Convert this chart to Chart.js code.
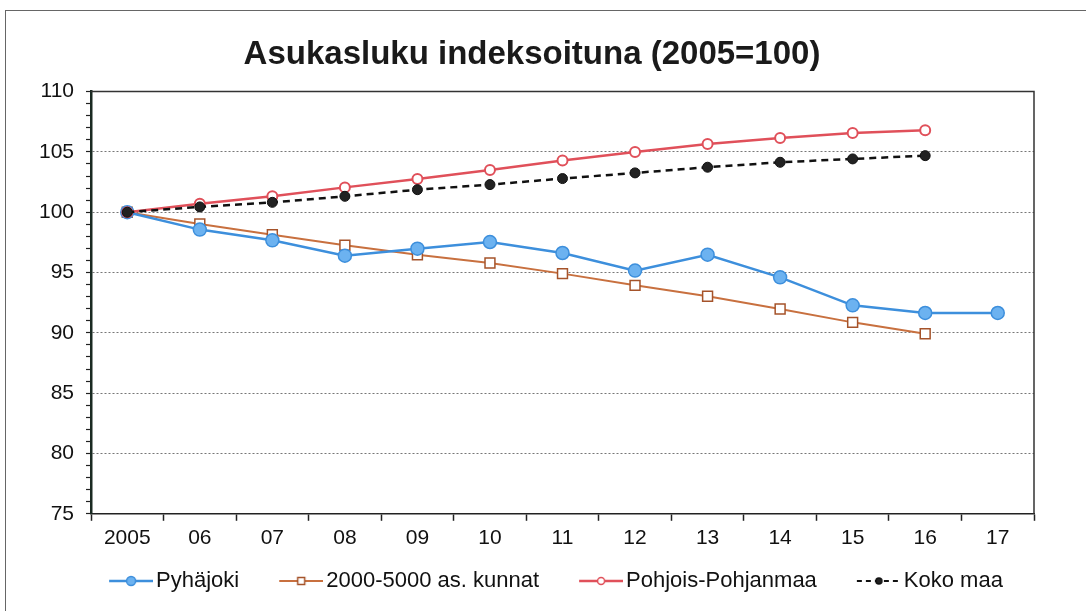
<!DOCTYPE html>
<html>
<head>
<meta charset="utf-8">
<script src="https://cdn.jsdelivr.net/npm/chart.js@4/dist/chart.umd.min.js"></script>
<style>
  html, body { margin: 0; padding: 0; background: #fff; }
  #wrap { position: relative; width: 1086px; height: 611px; overflow: hidden; }
  #frame { position: absolute; left: 5px; top: 10px; width: 1100px; height: 700px; border: 1px solid #666; box-sizing: border-box; }
  canvas { position: absolute; left: 0; top: 0; }
</style>
</head>
<body>
<div id="wrap">
  <div id="frame"></div>
  <canvas id="c" width="1086" height="611"></canvas>
</div>
<script>
const title = 'Asukasluku indeksoituna (2005=100)';
const years = ['2005', '06', '07', '08', '09', '10', '11', '12', '13', '14', '15', '16', '17'];
const pyhajoki = [100, 98.56, 97.67, 96.4, 96.98, 97.53, 96.62, 95.16, 96.48, 94.6, 92.28, 91.65, 91.65];
const kunnat = [100, 99.03, 98.14, 97.26, 96.48, 95.79, 94.91, 93.94, 93.03, 91.98, 90.87, 89.93, null];
const pohjois = [100, 100.71, 101.32, 102.06, 102.76, 103.5, 104.28, 105.0, 105.66, 106.16, 106.57, 106.79, null];
const kokoMaa = [100, 100.44, 100.82, 101.32, 101.87, 102.29, 102.79, 103.26, 103.73, 104.14, 104.42, 104.69, null];
const seriesNames = ['Pyhäjoki', '2000-5000 as. kunnat', 'Pohjois-Pohjanmaa', 'Koko maa'];
const yMin = 75, yMax = 110, yMajor = 5;

const FONT = "'Liberation Sans', Arial, sans-serif";
const LEG_FS = 22;
const LEG_PAD = 14;
const LEG_BOX = 62;             // pointStyleWidth
const ICON_W = LEG_BOX + 2 * 8; // image width (centered on box)
const LINE_LEN = 44;
const LEG_SHIFT = 11;

function legendIcon(lineColor, dash, shape, fill, stroke, r, lw) {
  const c = document.createElement('canvas');
  c.width = ICON_W; c.height = 16;
  const g = c.getContext('2d');
  const x1 = ICON_W, x0 = ICON_W - LINE_LEN, xm = (x0 + x1) / 2;
  g.strokeStyle = lineColor; g.lineWidth = lw;
  g.setLineDash(dash);
  g.beginPath(); g.moveTo(x0, 8); g.lineTo(x1, 8); g.stroke();
  g.setLineDash([]);
  g.fillStyle = fill; g.strokeStyle = stroke; g.lineWidth = 1.5;
  g.beginPath();
  if (shape === 'rect') g.rect(xm - r, 8 - r, 2 * r, 2 * r);
  else g.arc(xm, 8, r, 0, Math.PI * 2);
  g.fill(); g.stroke();
  return c;
}

const icons = [
  legendIcon('#3d8fdc', [], 'circle', '#6cb2f0', '#3d8fdc', 4.5, 2.5),
  legendIcon('#c8703f', [], 'rect', '#ffffff', '#a5532a', 3.5, 2),
  legendIcon('#e0505a', [], 'circle', '#ffffff', '#e0505a', 3.5, 2.5),
  legendIcon('#111111', [5, 4], 'circle', '#222222', '#111111', 3, 2.2)
];

const plotBorder = {
  id: 'plotBorder',
  afterLayout(chart) {
    if (chart.legend) { chart.legend.left += LEG_SHIFT; chart.legend.right += LEG_SHIFT; }
  },
  beforeDatasetsDraw(chart) {
    const a = chart.chartArea, ctx = chart.ctx;
    ctx.save();
    ctx.strokeStyle = '#333';
    ctx.lineWidth = 1.5;
    ctx.beginPath();
    ctx.moveTo(a.left, a.top); ctx.lineTo(a.right, a.top); ctx.lineTo(a.right, a.bottom);
    ctx.stroke();
    ctx.restore();
  }
};

new Chart(document.getElementById('c'), {
  type: 'line',
  data: {
    labels: years,
    datasets: [
      { label: seriesNames[0], data: pyhajoki, borderColor: '#3d8fdc', backgroundColor: '#6cb2f0',
        borderWidth: 2.5, pointRadius: 6.5, pointBorderWidth: 1.5, pointBorderColor: '#3d8fdc', pointBackgroundColor: '#6cb2f0', order: 2 },
      { label: seriesNames[1], data: kunnat, borderColor: '#c8703f', backgroundColor: '#fff',
        borderWidth: 2, pointStyle: 'rect', pointRadius: 7, pointBorderWidth: 1.5, pointBorderColor: '#a5532a', pointBackgroundColor: '#fff', order: 3 },
      { label: seriesNames[2], data: pohjois, borderColor: '#e0505a', backgroundColor: '#fff',
        borderWidth: 2.5, pointRadius: 5, pointBorderWidth: 2, pointBorderColor: '#e0505a', pointBackgroundColor: '#fff', order: 1 },
      { label: seriesNames[3], data: kokoMaa, borderColor: '#111', backgroundColor: '#222',
        borderWidth: 2.5, borderDash: [7, 5], pointRadius: 5, pointBorderWidth: 1, pointBorderColor: '#111', pointBackgroundColor: '#222', order: 0 }
    ]
  },
  options: {
    responsive: false,
    animation: false,
    spanGaps: false,
    layout: { padding: { left: 30, right: 52, top: 0, bottom: 9 } },
    plugins: {
      title: {
        display: true, text: title, color: '#1a1a1a',
        font: { family: FONT, size: 33, weight: 'bold' },
        padding: { top: 35, bottom: 17 }
      },
      legend: {
        position: 'bottom', fullSize: true,
        labels: {
          usePointStyle: true, pointStyleWidth: LEG_BOX, padding: LEG_PAD, color: '#111',
          font: { family: FONT, size: LEG_FS },
          generateLabels(chart) {
            return chart.data.datasets.map((ds, i) => ({
              text: ds.label, pointStyle: icons[i], datasetIndex: i,
              hidden: false, lineWidth: 0, strokeStyle: 'transparent', fillStyle: 'transparent', fontColor: '#111'
            }));
          }
        }
      },
      tooltip: { enabled: false }
    },
    scales: {
      x: {
        offset: true,
        grid: { display: true, offset: true, drawOnChartArea: false, drawTicks: true, tickLength: 7, tickColor: '#222', tickWidth: 1.5 },
        border: { display: true, color: '#222', width: 1.5 },
        ticks: { color: '#111', font: { family: FONT, size: 21 }, padding: 5, maxRotation: 0, autoSkip: false }
      },
      y: {
        min: yMin, max: yMax,
        afterFit(scale) { scale.width = 61; },
        grid: {
          color: (ctx) => (ctx.tick && ctx.tick.value % yMajor === 0 && ctx.tick.value !== yMin && ctx.tick.value !== yMax) ? '#777' : 'rgba(0,0,0,0)',
          lineWidth: 1,
          drawTicks: true, tickLength: 5, tickColor: '#222', tickWidth: 1.2, tickBorderDash: []
        },
        border: { display: true, color: '#1a2a22', width: 2.5, dash: [2, 2] },
        ticks: {
          stepSize: 1, autoSkip: false, color: '#111', padding: 12,
          font: { family: FONT, size: 21 },
          callback: (v) => (v % yMajor === 0 ? String(v) : '')
        }
      }
    }
  },
  plugins: [plotBorder]
});
</script>
</body>
</html>
